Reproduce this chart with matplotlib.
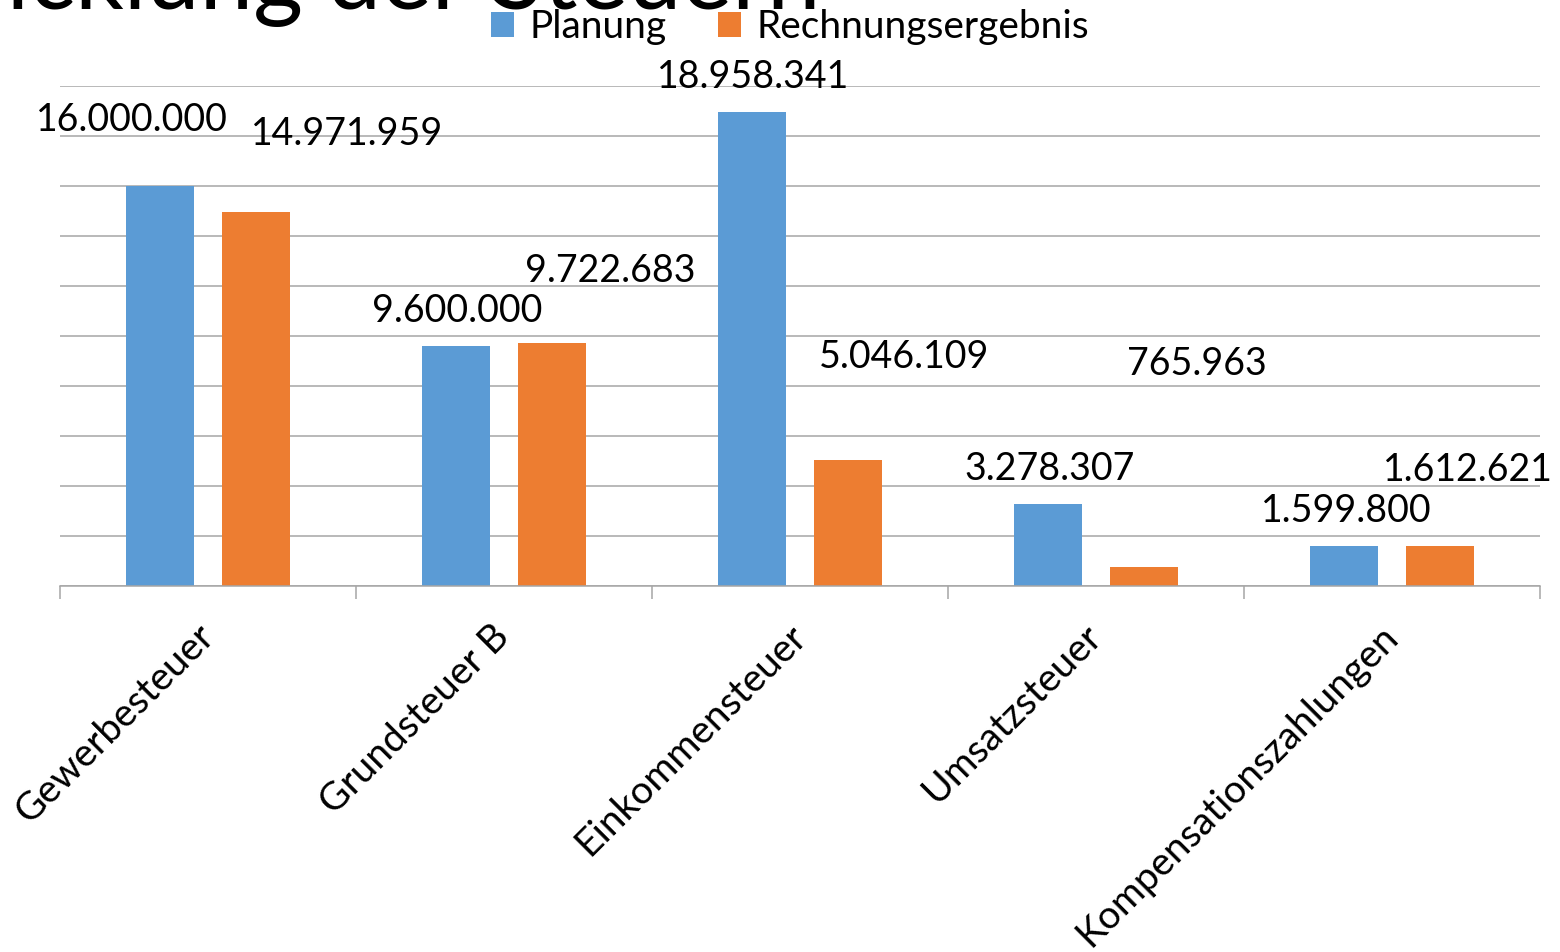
import matplotlib
matplotlib.use("Agg")
import matplotlib.pyplot as plt
from matplotlib.ticker import MultipleLocator, FixedLocator
import numpy as np

categories = ["Gewerbesteuer", "Grundsteuer B", "Einkommensteuer", "Umsatzsteuer", "Kompensationszahlungen"]
planung = [16000000, 9600000, 18958341, 3278307, 1599800]
rechnung = [14971959, 9722683, 5046109, 765963, 1612621]
series_names = ["Planung", "Rechnungsergebnis"]
title = "Entwicklung der Steuern"

# label offsets (pixels, dx, dy) relative to bar top centre - mimics original placement
off_plan = [(-28, 66), (1, 35), (1, 35), (2, 35), (2, 35)]
off_rech = [(91, 78), (58, 72), (56, 103), (53, 203), (28, 76)]

def fmt(v):
    return f"{v:,}".replace(",", ".")

plt.rcParams['font.family'] = ['Lato', 'DejaVu Sans']
W, H = 1560, 952
fig = plt.figure(figsize=(W/100, H/100), dpi=100)
ax = fig.add_axes([60/W, (H-586)/H, (1540-60)/W, 500/H])

x = np.arange(len(categories))
bw = 0.23
off = 0.162
blue = "#5B9BD5"
orange = "#ED7D31"
b1 = ax.bar(x - off, planung, bw, color=blue, label=series_names[0], zorder=3)
b2 = ax.bar(x + off, rechnung, bw, color=orange, label=series_names[1], zorder=3)

ax.set_ylim(0, 20000000)
ax.set_xlim(-0.5, len(categories) - 0.5)
ax.yaxis.set_major_locator(MultipleLocator(2000000))
ax.grid(axis='y', color='#a6a6a6', linewidth=1.1, zorder=0)
ax.tick_params(axis='y', left=False, labelleft=False)
for s in ['left', 'right', 'top']:
    ax.spines[s].set_visible(False)
ax.spines['bottom'].set_color('#a6a6a6')
ax.spines['bottom'].set_linewidth(1.1)
ax.spines['bottom'].set_zorder(4)

ax.set_xticks(x)
ax.set_xticklabels(categories, rotation=45, ha='right', va='center', rotation_mode='anchor', fontsize=28)
ax.tick_params(axis='x', which='major', length=0, pad=32)
ax.xaxis.set_minor_locator(FixedLocator(np.arange(-0.5, len(categories), 1.0)))
ax.tick_params(axis='x', which='minor', length=9, color='#a6a6a6', width=1.1)

for i in range(len(categories)):
    dx, dy = off_plan[i]
    ax.annotate(fmt(planung[i]), (x[i] - off, planung[i]), xytext=(dx*0.72, dy*0.72),
                textcoords='offset points', ha='center', va='center', fontsize=27, zorder=5)
    dx, dy = off_rech[i]
    ax.annotate(fmt(rechnung[i]), (x[i] + off, rechnung[i]), xytext=(dx*0.72, dy*0.72),
                textcoords='offset points', ha='center', va='center', fontsize=27, zorder=5)

fig.text(820/W, 1 - 9/H, title, ha='right', va='baseline', fontsize=69)

fig.legend(handles=[b1, b2], labels=series_names, loc='center', bbox_to_anchor=(790/W, 1 - 27/H),
           ncol=2, frameon=False, fontsize=28, handlelength=0.6, handleheight=0.6,
           handletextpad=0.4, columnspacing=1.3, borderpad=0)

fig.savefig("out.png", dpi=100)
